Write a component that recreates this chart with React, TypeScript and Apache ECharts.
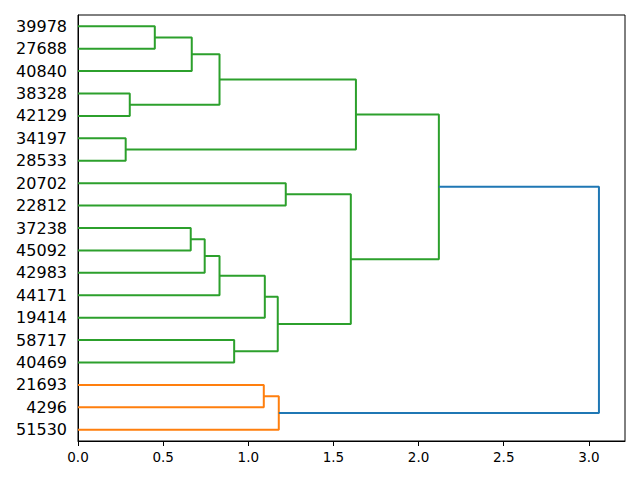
import React, { useEffect, useRef } from "react";
import * as echarts from "echarts";

// Leaf labels, in display order from top to bottom
const leafLabels = [
  "39978", "27688", "40840", "38328", "42129", "34197", "28533",
  "20702", "22812", "37238", "45092", "42983", "44171", "19414",
  "58717", "40469", "21693", "4296", "51530",
];

// Linkage: [left child, right child, merge height]; leaves are 0..18, merge k is id 19+k
const linkage: [number, number, number][] = [
  [0, 1, 0.451],
  [19, 2, 0.668],
  [3, 4, 0.304],
  [20, 21, 0.831],
  [5, 6, 0.28],
  [22, 23, 1.632],
  [7, 8, 1.22],
  [9, 10, 0.662],
  [26, 11, 0.744],
  [27, 12, 0.831],
  [28, 13, 1.097],
  [14, 15, 0.917],
  [29, 30, 1.173],
  [25, 31, 1.602],
  [24, 32, 2.119],
  [16, 17, 1.091],
  [34, 18, 1.179],
  [33, 35, 3.059],
];

const GREEN = "#2ca02c";
const ORANGE = "#ff7f0e";
const BLUE = "#1f77b4";
const linkColors = [
  GREEN, GREEN, GREEN, GREEN, GREEN, GREEN, GREEN, GREEN, GREEN,
  GREEN, GREEN, GREEN, GREEN, GREEN, GREEN, ORANGE, ORANGE, BLUE,
];

const xTicks = [0, 0.5, 1.0, 1.5, 2.0, 2.5, 3.0];

function buildSeries() {
  const n = leafLabels.length;
  const pos: number[] = leafLabels.map((_, i) => i);
  const height: number[] = leafLabels.map(() => 0);
  const series: any[] = [];
  linkage.forEach(([a, b, h], k) => {
    const id = n + k;
    pos[id] = (pos[a] + pos[b]) / 2;
    height[id] = h;
    series.push({
      type: "line",
      xAxisIndex: 0,
      yAxisIndex: 0,
      symbol: "none",
      silent: true,
      lineStyle: { color: linkColors[k], width: 2 },
      itemStyle: { color: linkColors[k] },
      data: [
        [height[a], pos[a]],
        [h, pos[a]],
        [h, pos[b]],
        [height[b], pos[b]],
      ],
    });
  });
  return series;
}

export default function App() {
  const ref = useRef<HTMLDivElement>(null);
  useEffect(() => {
    document.body.style.margin = "0";
    if (!ref.current) return;
    const chart = echarts.init(ref.current, undefined, { renderer: "svg" });
    const font = "DejaVu Sans";
    chart.setOption({
      animation: false,
      backgroundColor: "#ffffff",
      grid: {
        left: 78,
        right: 15,
        top: 15,
        bottom: 39,
        show: true,
        borderColor: "#000000",
        borderWidth: 1,
        backgroundColor: "transparent",
      },
      xAxis: {
        type: "value",
        min: 0,
        max: 3.212,
        interval: 0.5,
        splitLine: { show: false },
        axisLine: { show: true, onZero: false, lineStyle: { color: "#000", width: 1 } },
        axisTick: { show: true, length: 5, lineStyle: { color: "#000", width: 1 } },
        axisLabel: {
          color: "#000",
          fontFamily: font,
          fontSize: 13.5,
          margin: 9,
          showMaxLabel: false,
          formatter: (v: number) =>
            xTicks.some((t) => Math.abs(t - v) < 1e-6) ? v.toFixed(1) : "",
        },
      },
      yAxis: [
        {
          type: "value",
          min: -0.5,
          max: leafLabels.length - 0.5,
          inverse: true,
          show: false,
          splitLine: { show: false },
        },
        {
          type: "category",
          data: leafLabels,
          inverse: true,
          boundaryGap: true,
          position: "left",
          splitLine: { show: false },
          axisLine: { show: true, lineStyle: { color: "#000", width: 1 } },
          axisTick: { show: false },
          axisLabel: {
            color: "#000",
            fontFamily: font,
            fontSize: 16,
            margin: 11,
            interval: 0,
          },
        },
      ],
      series: buildSeries(),
    });
    return () => chart.dispose();
  }, []);
  return <div ref={ref} style={{ width: 640, height: 480 }} />;
}
